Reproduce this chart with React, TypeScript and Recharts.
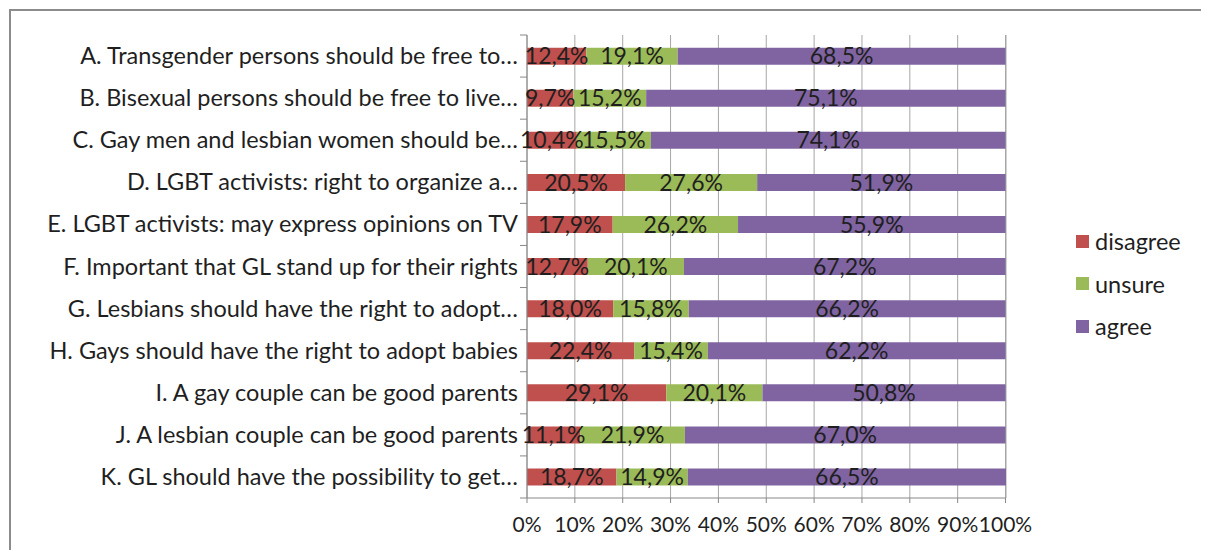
import React from "react";
import { BarChart, Bar, XAxis, YAxis, CartesianGrid, Legend, LabelList } from "recharts";

const statements = [
  "A. Transgender persons should be free to…",
  "B. Bisexual persons should be free to live…",
  "C. Gay men and lesbian women should be…",
  "D. LGBT activists: right to organize a…",
  "E. LGBT activists:  may express opinions on TV",
  "F. Important that GL stand up for their rights",
  "G. Lesbians should have the right to adopt…",
  "H. Gays should have the right to adopt babies",
  "I. A gay couple can be good parents",
  "J. A lesbian couple can be good parents",
  "K. GL should have the possibility to get…",
];

const seriesNames = ["disagree", "unsure", "agree"];
const disagree = [12.4, 9.7, 10.4, 20.5, 17.9, 12.7, 18.0, 22.4, 29.1, 11.1, 18.7];
const unsure = [19.1, 15.2, 15.5, 27.6, 26.2, 20.1, 15.8, 15.4, 20.1, 21.9, 14.9];
const agree = [68.5, 75.1, 74.1, 51.9, 55.9, 67.2, 66.2, 62.2, 50.8, 67.0, 66.5];

const xTicks = [0, 10, 20, 30, 40, 50, 60, 70, 80, 90, 100];

const data = statements.map((label, i) => ({
  label,
  disagree: disagree[i],
  unsure: unsure[i],
  agree: agree[i],
}));

const COLORS: Record<string, string> = { disagree: "#C0504D", unsure: "#9BBB59", agree: "#8064A2" };
const FONT = "Lato, 'Open Sans', sans-serif";
const TEXT = "#1f1f1f";
const PLOT_TOP = 27;
const PLOT_H = 463;
const BAND = PLOT_H / statements.length;

const fmt = (v: number) => v.toFixed(1).replace(".", ",") + "%";

const YTick = (props: any) => {
  const { x, y, payload, index } = props;
  const axisX = x + 9;
  return (
    <g>
      <line x1={axisX - 7} x2={axisX} y1={y - BAND / 2} y2={y - BAND / 2} stroke="#888" />
      {index === statements.length - 1 && (
        <line x1={axisX - 7} x2={axisX} y1={y + BAND / 2} y2={y + BAND / 2} stroke="#888" />
      )}
      <text x={x} y={y + 8} textAnchor="end" fontFamily={FONT} fontSize={23.5} fill={TEXT}>
        {payload.value}
      </text>
    </g>
  );
};

const XTick = (props: any) => {
  const { x, y, payload } = props;
  return (
    <text x={x} y={y + 29} textAnchor="middle" fontFamily={FONT} fontSize={21} fill={TEXT}>
      {payload.value}%
    </text>
  );
};

const LegendBox = () => (
  <div style={{ fontFamily: FONT, fontSize: 23.5, color: TEXT, whiteSpace: "nowrap" }}>
    {seriesNames.map((name) => (
      <div key={name} style={{ display: "flex", alignItems: "center", height: 42.5 }}>
        <span style={{ width: 13, height: 13, flexShrink: 0, background: COLORS[name], marginRight: 6 }} />
        {name}
      </div>
    ))}
  </div>
);

export default function App() {
  return (
    <div style={{ position: "relative", width: 1201, height: 542, overflow: "hidden" }}>
      <div
        style={{
          position: "absolute",
          left: 1,
          top: 1,
          width: 1200,
          height: 600,
          border: "2px solid #8c8c8c",
          boxSizing: "border-box",
        }}
      />
      <BarChart
        width={1201}
        height={542}
        data={data}
        layout="vertical"
        barCategoryGap="30%"
        margin={{ top: PLOT_TOP, right: 203, bottom: 22, left: 0 }}
        style={{ position: "absolute", left: 0, top: 0 }}
      >
        <CartesianGrid horizontal={false} stroke="#a6a6a6" />
        <XAxis
          type="number"
          domain={[0, 100]}
          ticks={xTicks}
          height={30}
          tickSize={5}
          tickMargin={0}
          tick={<XTick />}
          axisLine={{ stroke: "#888" }}
          tickLine={{ stroke: "#888" }}
        />
        <YAxis
          type="category"
          dataKey="label"
          width={519}
          tickSize={0}
          tickMargin={9}
          tickLine={false}
          axisLine={{ stroke: "#888" }}
          tick={<YTick />}
          interval={0}
        />
        <Legend
          layout="vertical"
          align="right"
          verticalAlign="middle"
          content={<LegendBox />}
          wrapperStyle={{ position: "absolute", left: 1068, top: 212, width: 0, height: 0 }}
        />
        <Bar dataKey="disagree" name="disagree" stackId="a" fill={COLORS.disagree} isAnimationActive={false}>
          <LabelList dataKey="disagree" position="center" formatter={fmt} fill={TEXT} fontFamily={FONT} fontSize={23} />
        </Bar>
        <Bar dataKey="unsure" name="unsure" stackId="a" fill={COLORS.unsure} isAnimationActive={false}>
          <LabelList dataKey="unsure" position="center" formatter={fmt} fill={TEXT} fontFamily={FONT} fontSize={23} />
        </Bar>
        <Bar dataKey="agree" name="agree" stackId="a" fill={COLORS.agree} isAnimationActive={false}>
          <LabelList dataKey="agree" position="center" formatter={fmt} fill={TEXT} fontFamily={FONT} fontSize={23} />
        </Bar>
      </BarChart>
    </div>
  );
}
